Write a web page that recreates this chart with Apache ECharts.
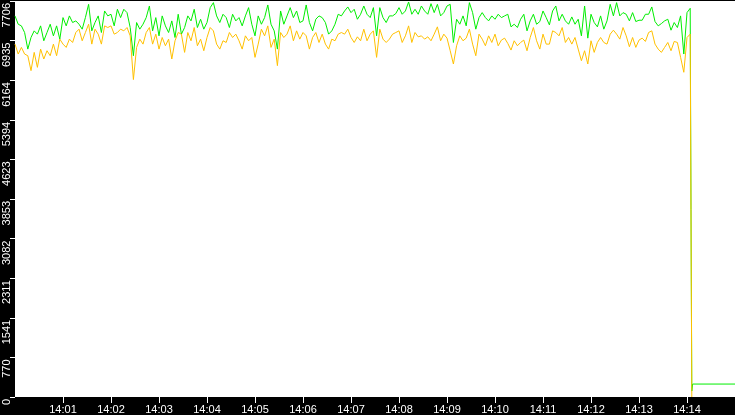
<!DOCTYPE html>
<html>
<head>
<meta charset="utf-8">
<script src="https://cdn.jsdelivr.net/npm/echarts@6/dist/echarts.min.js"></script>
<style>
  html, body { margin: 0; padding: 0; background: #000; }
  #chart { width: 735px; height: 415px; }
</style>
</head>
<body>
<div id="chart"></div>
<script>
// seconds after 14:00:00, one sample every 4 s
var stepSec = 4

var greenValues = [
  7416,7254,7222,7093,6770,6996,7125,7061,7222,6932,7093,7254,7028,7222,6964,7383,7222,7416,7287,7319,7254,7158,7383,7641,7125,7287,7416,7093,7512,7416,7448,7222,7545,7383,7545,7480,7190,6641,
  7287,7158,7254,7383,7609,7125,7383,7028,7416,7222,7093,7319,6996,7448,7061,7190,7416,7319,7545,7190,7351,7158,7287,7577,7674,7416,7287,7448,7383,7190,7448,7319,7383,7222,7416,7577,7254,
  7028,7416,7254,7383,7629,7254,7125,6770,7512,7254,7416,7577,7383,7512,7287,7319,7629,7287,7125,7351,7416,7383,7287,7061,7125,7254,7448,7416,7512,7590,7480,7545,7351,7448,7609,7448,7383,7577,
  7028,7577,7383,7287,7416,7416,7461,7577,7448,7512,7687,7448,7545,7448,7609,7512,7448,7654,7480,7641,7416,7480,7609,7641,6899,7351,7254,7416,7222,7674,7480,7158,7383,7480,7383,7319,7416,
  7351,7448,7383,7416,7448,7203,7254,7190,7351,7448,7125,7319,7448,7254,7306,7512,7383,7241,7512,7609,7319,7448,7319,7254,7396,7254,7351,7028,7609,6983,7448,7287,7203,7416,7158,7319,7641,7416,
  7674,7416,7480,7448,7319,7480,7306,7332,7332,7448,7448,7590,7306,7222,7267,7319,7351,7138,7287,7190,7416,6674,7480,7564
]
var orangeValues = [
  6867,6674,6803,6674,6641,6351,6706,6415,6770,6577,6738,6641,6867,6641,6964,6867,6803,6964,6899,7093,7158,6932,7093,7254,6867,7158,7061,6867,7222,7190,7222,7061,7093,7158,7125,7190,7028,6177,
  6803,6964,6867,7093,7190,6867,7061,6770,6996,6835,6964,6577,6932,7093,7061,6706,7093,6932,7190,6835,6964,6738,6996,7190,7125,6867,6770,6932,6899,7093,6996,7061,6932,6770,7028,6932,6996,
  6609,6867,7158,7028,7222,6803,6964,6448,7093,6996,7061,7222,6932,7125,6964,7093,7028,6770,6996,7093,6899,7061,6867,6770,6964,6932,7061,7093,7061,7158,6996,6899,7009,6932,7158,6932,7061,7125,
  6609,7158,6964,6899,6964,7061,7093,7125,6899,7028,7222,6899,7093,7009,7028,6964,7009,6932,7061,7203,6932,7061,6983,6738,6480,6835,7028,6932,6983,7158,6867,6641,7061,6964,6835,7028,6899,
  7061,6835,6945,6983,6880,6751,6932,6835,6899,6945,6738,6996,7190,6932,6770,7061,6867,6867,7125,7093,7028,7190,6899,6996,6867,6996,6770,6544,6738,6480,6932,6706,6899,6996,6899,6867,7061,7138,
  7061,6964,7190,7028,6816,6996,6803,6945,6983,6919,7093,7125,6867,6770,6706,6803,6899,6738,6919,6899,6609,6319,6996,7061
]

// the drop at the end
var greenTailSec = [845, 846, 847, 900]
var greenTailValues = [3650, 116, 252, 252]
var orangeTailSec = [845, 846]
var orangeTailValues = [3500, 0]

var yTicks = [0, 770, 1541, 2311, 3082, 3853, 4623, 5394, 6164, 6935, 7706]
var xTickSec = [60, 120, 180, 240, 300, 360, 420, 480, 540, 600, 660, 720, 780, 840]

function pairs(values, tailSec, tailValues) {
  var out = values.map(function (v, i) { return [i * stepSec, v] })
  tailSec.forEach(function (s, i) { out.push([s, tailValues[i]]) })
  return out
}

function minuteLabel(s) {
  var m = Math.round(s / 60)
  return '14:' + (m < 10 ? '0' + m : m)
}

var chart = echarts.init(document.getElementById('chart'))
chart.setOption({
  animation: false,
  backgroundColor: '#000',
  grid: { left: 15, right: 0, top: 0, bottom: 17, show: true, backgroundColor: '#fff', borderWidth: 0 },
  xAxis: {
    type: 'value',
    min: 0,
    max: 900,
    interval: 60,
    splitLine: { show: false },
    axisLine: { show: false },
    axisTick: { show: true, length: 6, lineStyle: { color: '#fff' }, customValues: xTickSec },
    axisLabel: {
      color: '#fff', fontSize: 11, fontFamily: 'Liberation Sans', margin: 7,
      customValues: xTickSec,
      formatter: minuteLabel
    }
  },
  yAxis: {
    type: 'value',
    min: 0,
    max: 7706,
    splitLine: { show: false },
    axisLine: { show: false },
    axisTick: { show: true, length: 5, lineStyle: { color: '#fff' }, customValues: yTicks },
    axisLabel: {
      color: '#fff', fontSize: 11, fontFamily: 'Liberation Sans',
      rotate: 90, align: 'right', verticalAlign: 'bottom', margin: 3,
      padding: [0, 2, 0, 0],
      customValues: yTicks,
      formatter: function (v) { return String(Math.round(v)) }
    }
  },
  series: [
    {
      type: 'line', showSymbol: false, symbol: 'none',
      lineStyle: { color: '#00ee00', width: 1 },
      data: pairs(greenValues, greenTailSec, greenTailValues)
    },
    {
      type: 'line', showSymbol: false, symbol: 'none',
      lineStyle: { color: '#ffc000', width: 1 },
      data: pairs(orangeValues, orangeTailSec, orangeTailValues)
    }
  ]
})
</script>
</body>
</html>
